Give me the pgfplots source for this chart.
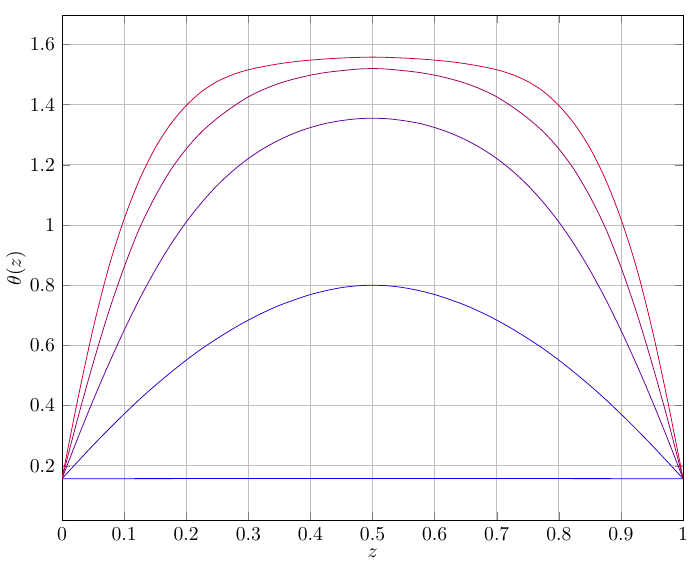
\documentclass[border=0pt]{standalone}
\usepackage{pgfplots}
\pgfplotsset{compat=1.18}
\begin{document}
\begin{tikzpicture}
\begin{axis}[
  scale only axis,
  width=315.5pt, height=257pt,
  xmin=0, xmax=1, ymin=0.0169, ymax=1.6981,
  xtick={0,0.1,...,1}, ytick={0.2,0.4,...,1.6},
  grid=major,
  xlabel={$z$}, ylabel={$\theta(z)$},
  xlabel style={at={(axis description cs:0.5,0)}, anchor=center, inner sep=0pt, yshift=-16.5pt},
  ylabel style={at={(axis description cs:0,0.5)}, anchor=center, inner sep=0pt, yshift=23.4pt},
]
\addplot[blue, smooth] coordinates {
(0,0.157) (0.25,0.1575) (0.5,0.158) (0.75,0.1575) (1,0.157)};
\addplot[red!20!blue, smooth] coordinates {
(0,0.157) (0.025,0.213) (0.05,0.268) (0.075,0.321) (0.1,0.372) (0.125,0.421) (0.15,0.467) (0.175,0.510) (0.2,0.551) (0.225,0.589) (0.25,0.623) (0.275,0.655) (0.3,0.684) (0.325,0.710) (0.35,0.733) (0.375,0.752) (0.4,0.769) (0.425,0.782) (0.45,0.792) (0.475,0.798) (0.5,0.800)
(0.525,0.798) (0.55,0.792) (0.575,0.782) (0.6,0.769) (0.625,0.752) (0.65,0.733) (0.675,0.710) (0.7,0.684) (0.725,0.655) (0.75,0.623) (0.775,0.589) (0.8,0.551) (0.825,0.510) (0.85,0.467) (0.875,0.421) (0.9,0.372) (0.925,0.321) (0.95,0.268) (0.975,0.213) (1,0.157)};
\addplot[red!40!blue, smooth] coordinates {
(0,0.157) (0.025,0.290) (0.05,0.417) (0.075,0.537) (0.1,0.650) (0.125,0.755) (0.15,0.850) (0.175,0.935) (0.2,1.010) (0.225,1.075) (0.25,1.132) (0.275,1.180) (0.3,1.221) (0.325,1.255) (0.35,1.283) (0.375,1.306) (0.4,1.324) (0.425,1.338) (0.45,1.347) (0.475,1.353) (0.5,1.355)
(0.525,1.353) (0.55,1.347) (0.575,1.338) (0.6,1.324) (0.625,1.306) (0.65,1.283) (0.675,1.255) (0.7,1.221) (0.725,1.180) (0.75,1.132) (0.775,1.075) (0.8,1.010) (0.825,0.935) (0.85,0.850) (0.875,0.755) (0.9,0.650) (0.925,0.537) (0.95,0.417) (0.975,0.290) (1,0.157)};
\addplot[red!60!blue, smooth] coordinates {
(0,0.157) (0.025,0.355) (0.05,0.540) (0.075,0.710) (0.1,0.860) (0.125,0.990) (0.15,1.095) (0.175,1.183) (0.2,1.253) (0.225,1.310) (0.25,1.355) (0.275,1.393) (0.3,1.426) (0.325,1.451) (0.35,1.471) (0.375,1.486) (0.4,1.498) (0.425,1.507) (0.45,1.513) (0.475,1.518) (0.5,1.520)
(0.525,1.518) (0.55,1.513) (0.575,1.507) (0.6,1.498) (0.625,1.486) (0.65,1.471) (0.675,1.451) (0.7,1.426) (0.725,1.393) (0.75,1.355) (0.775,1.310) (0.8,1.253) (0.825,1.183) (0.85,1.095) (0.875,0.990) (0.9,0.860) (0.925,0.710) (0.95,0.540) (0.975,0.355) (1,0.157)};
\addplot[red!80!blue, smooth] coordinates {
(0,0.157) (0.025,0.417) (0.05,0.655) (0.075,0.858) (0.1,1.020) (0.125,1.152) (0.15,1.256) (0.175,1.336) (0.2,1.397) (0.225,1.444) (0.25,1.477) (0.275,1.500) (0.3,1.516) (0.325,1.527) (0.35,1.536) (0.375,1.543) (0.4,1.548) (0.425,1.552) (0.45,1.555) (0.475,1.557) (0.5,1.558)
(0.525,1.557) (0.55,1.555) (0.575,1.552) (0.6,1.548) (0.625,1.543) (0.65,1.536) (0.675,1.527) (0.7,1.516) (0.725,1.500) (0.75,1.477) (0.775,1.444) (0.8,1.397) (0.825,1.336) (0.85,1.256) (0.875,1.152) (0.9,1.020) (0.925,0.858) (0.95,0.655) (0.975,0.417) (1,0.157)};
\end{axis}
\path ([xshift=-31.5pt,yshift=-22.5pt]current axis.south west) rectangle ([xshift=8.6pt,yshift=7.6pt]current axis.north east);
\end{tikzpicture}
\end{document}
